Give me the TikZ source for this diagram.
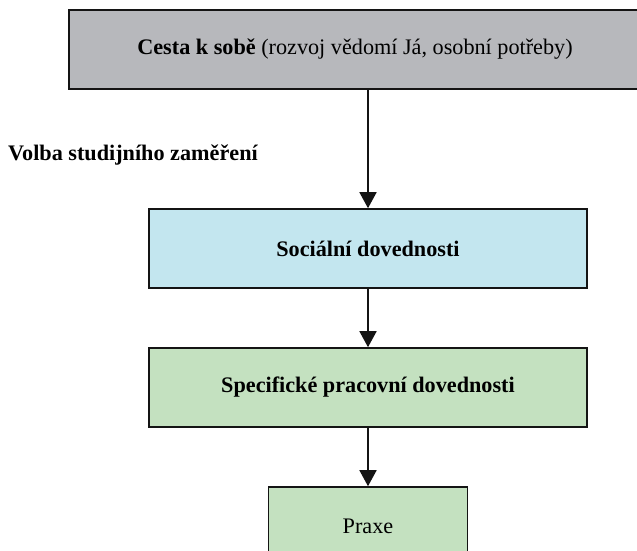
\documentclass[tikz,border=0pt]{standalone}
\usepackage{fontspec}
\setmainfont{Liberation Serif}
\usetikzlibrary{arrows.meta}
\definecolor{boxgray}{HTML}{B7B8BC}
\definecolor{boxblue}{HTML}{C3E6EF}
\definecolor{boxgreen}{HTML}{C4E1C0}
\definecolor{edge}{HTML}{141414}
\begin{document}
\begin{tikzpicture}[x=1pt,y=-1pt,
  box/.style={draw=edge,line width=1.6pt,rectangle,inner sep=0pt,minimum height=79pt,
    font=\fontsize{22.2}{26}\selectfont},
  conn/.style={draw=edge,line width=1.6pt,-{Triangle[width=17pt,length=16pt]}}]
\clip (0,0) rectangle (637,550);
\fill[white] (0,0) rectangle (637,550);
\node[box,fill=boxgray,minimum width=572pt] (top) at (355,49.5) {\textbf{Cesta k sobě} (rozvoj vědomí Já, osobní potřeby)};
\node[anchor=west,inner sep=0pt,font=\fontsize{22.2}{26}\selectfont\bfseries] (volba) at (8,155) {Volba studijního zaměření};
\node[box,fill=boxblue,minimum width=438pt] (soc) at (368,248.5) {\textbf{Sociální dovednosti}};
\node[box,fill=boxgreen,minimum width=438pt] (spec) at (368,387.5) {\textbf{Specifické pracovní dovednosti}};
\node[box,fill=boxgreen,minimum width=199pt] (praxe) at (368,526.5) {Praxe};
\draw[conn] (top.south -| soc.north) -- (soc.north);
\draw[conn] (soc.south) -- (spec.north);
\draw[conn] (spec.south) -- (praxe.north);
\end{tikzpicture}
\end{document}
